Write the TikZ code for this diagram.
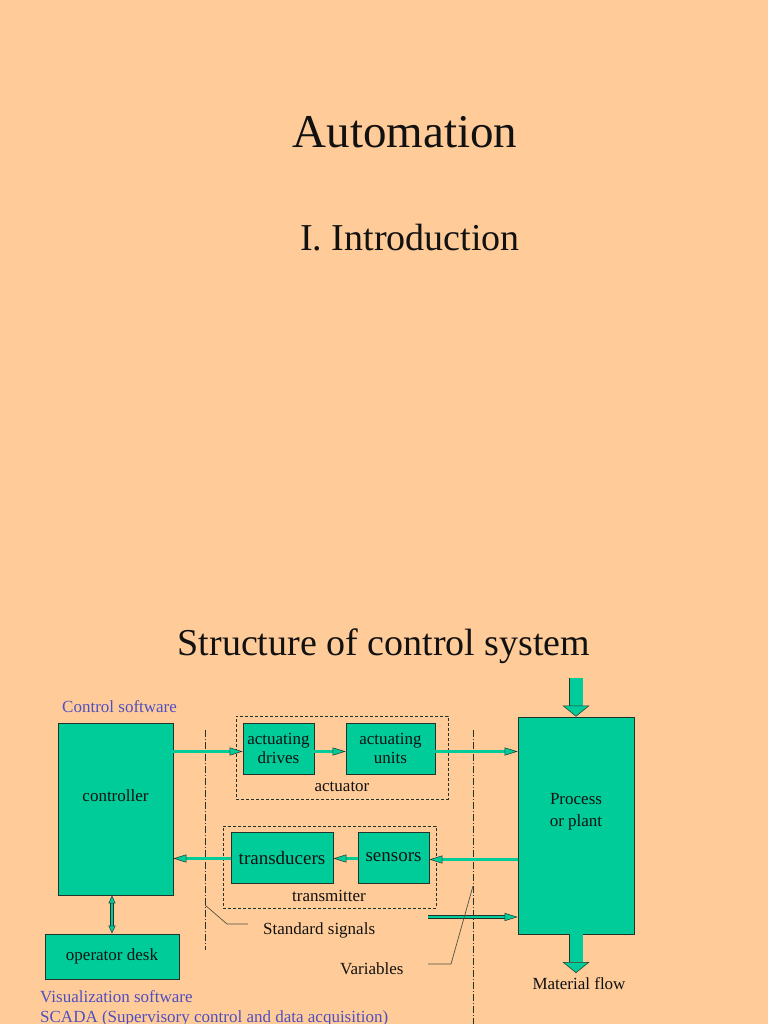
\documentclass[tikz,border=0pt]{standalone}
\usepackage{fontspec}
\setmainfont{Liberation Serif}
\usetikzlibrary{arrows.meta}
\definecolor{bg}{HTML}{FFCC99}
\definecolor{boxc}{HTML}{00CC99}
\definecolor{edge}{HTML}{22332B}
\definecolor{ink}{HTML}{111111}
\definecolor{bluet}{HTML}{4F4FBF}
\tikzset{
  blk/.style={draw=edge, line width=0.8pt, fill=boxc, text=ink, align=center, inner sep=0pt, font=\fontsize{17}{19}\selectfont},
  grp/.style={draw=edge, line width=0.7pt, dash pattern=on 3pt off 2pt, inner sep=0pt},
  flow/.style={draw=edge, line width=0.5pt, double=boxc, double distance=2.4pt, -{Triangle[length=13pt, width=8pt, fill=boxc, line width=0.5pt]}},
  biflow/.style={draw=edge, line width=0.5pt, double=boxc, double distance=2.4pt, {Triangle[length=8pt, width=7pt, fill=boxc, line width=0.5pt]}-{Triangle[length=8pt, width=7pt, fill=boxc, line width=0.5pt]}},
  bigflow/.style={draw=edge, line width=0.5pt, double=boxc, double distance=13pt, -{Triangle[length=11pt, width=27pt, fill=boxc, line width=0.5pt]}},
  dashdot/.style={draw=edge, line width=0.7pt, dash pattern=on 7pt off 2pt on 1pt off 2pt},
  leader/.style={draw=edge!80!bg, line width=0.7pt},
  txt/.style={text=ink, inner sep=0pt, font=\fontsize{17}{19}\selectfont},
  bluetxt/.style={text=bluet, inner sep=0pt, font=\fontsize{17}{19}\selectfont},
}
\begin{document}
\begin{tikzpicture}[x=1pt,y=-1pt]
\fill[bg] (0,0) rectangle (768,1024);
\useasboundingbox (0,0) rectangle (768,1024);

% titles
\node[txt, anchor=base, font=\fontsize{47}{56}\selectfont] (t1) at (405,148) {Automation};
\node[txt, anchor=base, font=\fontsize{38}{46}\selectfont] (t2) at (410,250) {I. Introduction};
\node[txt, anchor=base, font=\fontsize{38}{46}\selectfont] (t3) at (384,655) {Structure of control system};

% dashed groups
\node[grp, minimum width=212pt, minimum height=83pt] (actgrp) at (342,757.5) {};
\node[grp, minimum width=213pt, minimum height=82pt] (trgrp) at (329.5,867) {};
\node[txt] (actlbl) at (342,787) {actuator};
\node[txt] (trlbl) at (329,896) {transmitter};

% dash-dot boundaries
\coordinate (d1a) at (205,730);
\coordinate (d1b) at (205,950);
\coordinate (d2a) at (473,730);
\coordinate (d2b) at (473,1024);
\draw[dashdot] (d1a) -- (d1b);
\draw[dashdot] (d2a) -- (d2b);

% blocks
\node[blk, minimum width=115pt, minimum height=172pt] (ctrl) at (115.5,809) {};
\node[txt] (ctrltxt) at (115.5,796) {controller};
\node[blk, minimum width=134pt, minimum height=45pt] (desk) at (112,956.5) {operator desk};
\node[blk, minimum width=71pt, minimum height=51pt] (drives) at (278.5,748.5) {actuating\\drives};
\node[blk, minimum width=89pt, minimum height=51pt] (units) at (390.5,748.5) {actuating\\units};
\node[blk, minimum width=102pt, minimum height=51pt, font=\fontsize{19}{21}\selectfont] (transd) at (282,857.5) {transducers};
\node[blk, minimum width=71pt, minimum height=51pt, font=\fontsize{19}{21}\selectfont] (sens) at (393.5,857.5) {sensors};
\node[blk, minimum width=116pt, minimum height=217pt] (proc) at (576,825.5) {};
\node[txt, align=center, font=\fontsize{17}{22}\selectfont] (proctxt) at (576,812) {Process\\or plant};

% labels
\node[bluetxt, anchor=base west] (csw) at (62,712) {Control software};
\node[bluetxt, anchor=base west] (vsw) at (40,1002) {Visualization software};
\node[bluetxt, anchor=base west] (scada) at (40,1022) {SCADA (Supervisory control and data acquisition)};
\node[txt, anchor=west] (stds) at (263,930) {Standard signals};
\node[txt, anchor=west] (vars) at (340,969) {Variables};
\node[txt, anchor=base] (mflow) at (579,989) {Material flow};

% signal arrows
\draw[flow] ([yshift=-3pt]ctrl.east |- drives.west) -- ([yshift=-3pt]drives.west);
\draw[flow] ([yshift=-3pt]drives.east) -- ([yshift=-3pt]units.west);
\draw[flow] ([yshift=-3pt]units.east) -- ([yshift=-3pt]proc.west |- units.east);
\draw[flow] ([yshift=-2pt]proc.west |- sens.east) -- ([yshift=-2pt]sens.east);
\draw[flow] ([yshift=-1pt]sens.west) -- ([yshift=-1pt]transd.east);
\draw[flow] ([yshift=-1pt]transd.west) -- ([yshift=-1pt]ctrl.east |- transd.west);
\coordinate (varsrc) at (428,917);
\draw[flow] (varsrc) -- (proc.west |- varsrc);
\draw[biflow] (ctrl.south -| desk.north) -- (desk.north);

% material flow arrows
\coordinate (inflow) at (576,678);
\coordinate (outflow) at (576,973);
\draw[bigflow] (inflow) -- (proc.north);
\draw[bigflow] (proc.south) -- (outflow);

% leader lines
\coordinate (l1a) at (205,905);
\coordinate (l1b) at (227,924);
\coordinate (l1c) at (248,924);
\draw[leader] (l1a) -- (l1b) -- (l1c);
\coordinate (l2a) at (473,886);
\coordinate (l2b) at (451,964);
\coordinate (l2c) at (428,964);
\draw[leader] (l2a) -- (l2b) -- (l2c);
\end{tikzpicture}
\end{document}
